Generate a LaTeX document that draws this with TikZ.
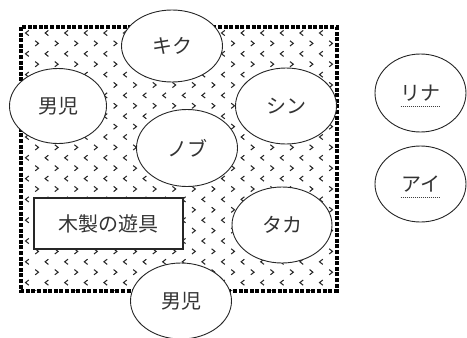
\documentclass[tikz,border=0pt]{standalone}
\usepackage{fontspec}
\newfontfamily\jp{Noto Sans CJK JP}
\usetikzlibrary{shapes.geometric}
\tikzset{
  person/.style={ellipse, draw=black!85, line width=0.9pt, fill=white, inner sep=0pt,
    font=\jp\fontsize{20}{22}\selectfont, text=black!80},
  toybox/.style={rectangle, draw=black!85, line width=1.2pt, fill=white, inner sep=0pt,
    font=\jp\fontsize{20}{22}\selectfont, text=black!80},
  border/.style={line width=4pt, dash pattern=on 4pt off 1.6pt},
  chev/.style={line width=1.05pt, black!85},
  uline/.style={line width=1pt, densely dotted, black!75}
}
\begin{document}
\begin{tikzpicture}[x=1pt,y=-1pt]
\useasboundingbox (0,0) rectangle (467,338);
% pattern area
\begin{scope}
\clip (21,28) rectangle (336,290);
\foreach \j in {0,...,25}{
  \pgfmathsetmacro{\yy}{33+10.4*\j}
  \pgfmathtruncatemacro{\odd}{mod(\j,2)}
  \ifnum\odd=0
    \foreach \k in {0,...,16}{
      \pgfmathsetmacro{\xx}{27+19.6*\k}
      \draw[chev] (\xx+1.8,\yy-2.6) -- (\xx-1.5,\yy) -- (\xx+1.8,\yy+2.6);
    }
  \else
    \foreach \k in {0,...,16}{
      \pgfmathsetmacro{\xx}{37+19.6*\k}
      \draw[chev] (\xx-1.8,\yy-2.6) -- (\xx+1.5,\yy) -- (\xx-1.8,\yy+2.6);
    }
  \fi
}
\end{scope}
\draw[border] (20.5,27) rectangle (336.5,290.5);
% nodes
\node[person, minimum width=101pt, minimum height=72pt] (kiku) at (172,46) {キク};
\node[person, minimum width=97pt, minimum height=75pt] (danji1) at (58,106) {男児};
\node[person, minimum width=101pt, minimum height=76pt] (shin) at (286,106) {シン};
\node[person, minimum width=101pt, minimum height=77pt] (nobu) at (187,148) {ノブ};
\node[person, minimum width=100pt, minimum height=76pt] (taka) at (282,225) {タカ};
\node[person, minimum width=101pt, minimum height=76pt] (danji2) at (181,301) {男児};
\node[toybox, minimum width=149pt, minimum height=51pt] (toy) at (108.5,223.5) {木製の遊具};
\node[person, minimum width=91pt, minimum height=78pt] (rina) at (420.5,93) {リナ};
\node[person, minimum width=91pt, minimum height=76pt] (ai) at (420.5,184) {アイ};
\draw[uline] ([xshift=-20pt,yshift=-13pt]rina.center) -- ([xshift=20pt,yshift=-13pt]rina.center);
\draw[uline] ([xshift=-20pt,yshift=-13pt]ai.center) -- ([xshift=20pt,yshift=-13pt]ai.center);
\end{tikzpicture}
\end{document}
